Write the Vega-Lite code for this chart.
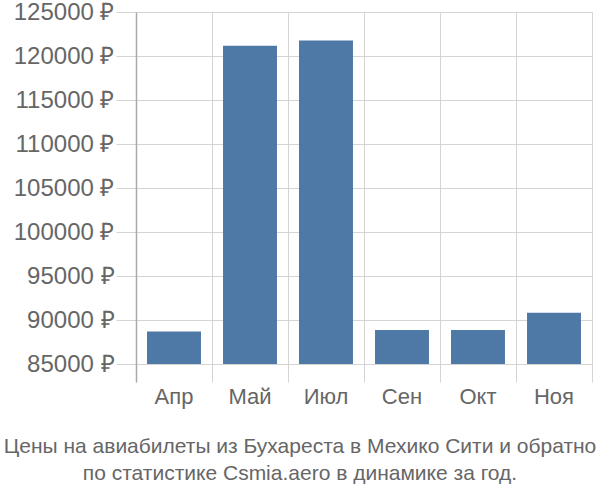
{
  "$schema": "https://vega.github.io/schema/vega-lite/v6.json",
  "autosize": {"type": "none"},
  "width": 456,
  "height": 370,
  "padding": {"left": 136, "top": 12, "right": 8, "bottom": 118},
  "background": "white",
  "data": {"values": [
    {"month": "Апр", "price": 88680},
    {"month": "Май", "price": 121170},
    {"month": "Июл", "price": 121750},
    {"month": "Сен", "price": 88870},
    {"month": "Окт", "price": 88870},
    {"month": "Ноя", "price": 90830}
  ]},
  "title": {
    "text": ["Цены на авиабилеты из Бухареста в Мехико Сити и обратно", "по статистике Csmia.aero в динамике за год."],
    "orient": "bottom",
    "anchor": "middle",
    "dx": -64,
    "offset": 29,
    "font": "Liberation Sans",
    "fontSize": 21,
    "fontWeight": "normal",
    "color": "#666666",
    "lineHeight": 27
  },
  "mark": {"type": "bar", "color": "#4e78a6", "width": {"band": 0.71}},
  "encoding": {
    "x": {
      "field": "month",
      "type": "nominal",
      "sort": null,
      "scale": {"paddingInner": 0, "paddingOuter": 0},
      "axis": {
        "title": null,
        "labelAngle": 0,
        "domain": false,
        "ticks": false,
        "grid": true,
        "bandPosition": 1,
        "tickExtra": true,
        "gridColor": "#d4d4d4",
        "gridOpacity": 1,
        "labelFont": "Liberation Sans",
        "labelFontSize": 22,
        "labelColor": "#666666",
        "labelPadding": 4
      }
    },
    "y": {
      "field": "price",
      "type": "quantitative",
      "scale": {"domain": [82954.5455, 125000], "nice": false, "zero": false},
      "axis": {
        "title": null,
        "values": [85000, 90000, 95000, 100000, 105000, 110000, 115000, 120000, 125000],
        "labelExpr": "datum.value + ' ₽'",
        "domainColor": "#aaaaaa",
        "domainWidth": 1.5,
        "tickSize": 20,
        "tickColor": "#d4d4d4",
        "grid": true,
        "gridColor": "#d4d4d4",
        "gridOpacity": 1,
        "labelFont": "Liberation Sans",
        "labelFontSize": 24,
        "labelColor": "#666666",
        "labelPadding": 2
      }
    },
    "y2": {"datum": 85000}
  },
  "config": {"view": {"stroke": "transparent"}}
}
